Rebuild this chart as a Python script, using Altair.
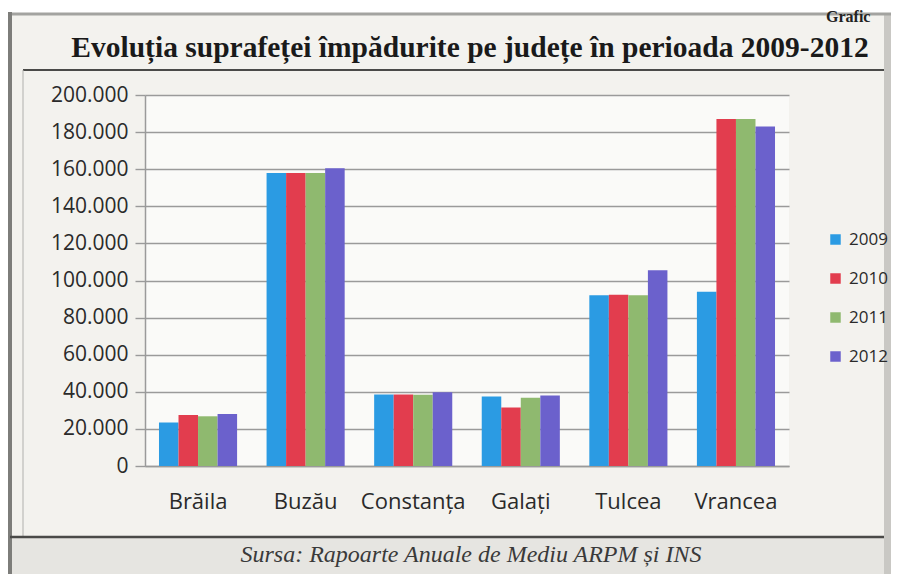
import altair as alt
import pandas as pd

# ---- data ----
judete = ["Brăila", "Buzău", "Constanța", "Galați", "Tulcea", "Vrancea"]
ani = ["2009", "2010", "2011", "2012"]
v2009 = [23500, 158000, 38600, 37500, 92000, 94000]
v2010 = [27500, 158000, 38600, 31500, 92300, 187000]
v2011 = [26800, 158000, 38400, 36800, 92000, 187000]
v2012 = [28000, 160500, 39800, 38000, 105500, 183000]
culori = ["#2b9be3", "#e23d4e", "#8fb96f", "#6b61cc"]
y_ticks = list(range(0, 200001, 20000))
title_text = "Evoluția suprafeței împădurite pe județe în perioada 2009-2012"
source_text = "Sursa: Rapoarte Anuale de Mediu ARPM și INS"
corner_text = "Grafic"

serii = {"2009": v2009, "2010": v2010, "2011": v2011, "2012": v2012}
rows = []
for an in ani:
    for j, v in zip(judete, serii[an]):
        rows.append({"judet": j, "an": an, "val": v})
df = pd.DataFrame(rows)

# ---- layout (plot origin at page px (145, 95)) ----
OX, OY = 145, 95
W, H = 644, 371
dummy = pd.DataFrame({"k": [0]})


def rect(x1, y1, x2, y2, color):
    return alt.Chart(dummy).mark_rect(color=color).encode(
        x=alt.value(x1 - OX), x2=alt.value(x2 - OX),
        y=alt.value(y1 - OY), y2=alt.value(y2 - OY))


def rule(x1, y1, x2, y2, color, w):
    return alt.Chart(dummy).mark_rule(color=color, strokeWidth=w).encode(
        x=alt.value(x1 - OX), x2=alt.value(x2 - OX),
        y=alt.value(y1 - OY), y2=alt.value(y2 - OY))


def text(x, y, s, **kw):
    return alt.Chart(dummy).mark_text(**kw).encode(
        x=alt.value(x - OX), y=alt.value(y - OY), text=alt.value(s))


decor = [
    rect(8, 538, 891, 574, "#e6e5e1"),
    rect(884, 12, 891, 574, "#c9c8c4"),
    rect(8, 8, 891, 13, "#ffffff"),
    rule(8, 14, 891, 14, "#a3a3a0", 3),
    rule(10, 12, 10, 574, "#7d7d7a", 4),
    rule(23, 70, 884, 70, "#4a4a48", 2),
    rule(23, 70, 23, 537, "#b0b0ad", 1),
    rule(10, 537, 884, 537, "#4a4a48", 2.5),
    text(826, 9, corner_text, font="Liberation Serif", fontWeight="bold",
         fontSize=16, align="left", baseline="top", color="#222"),
]

texts = [
    text(470, 48, title_text, font="Liberation Serif", fontWeight="bold",
         fontSize=29.5, align="center", baseline="middle", color="#1a1a1a"),
    text(471, 555, source_text, font="Liberation Serif", fontStyle="italic",
         fontSize=24, align="center", baseline="middle", color="#3a3a3a"),
]

bars = alt.Chart(df).mark_bar().encode(
    x=alt.X("judet:N", sort=judete,
            scale=alt.Scale(paddingInner=0.274, paddingOuter=0.13),
            axis=alt.Axis(title=None, labelAngle=0, labelFont="Open Sans",
                          labelFontSize=22, labelColor="#2a2a2a", labelPadding=25,
                          ticks=False, domainColor="#9a9a9a", domainWidth=1.5,
                          grid=False)),
    xOffset=alt.XOffset("an:N", sort=ani,
                        scale=alt.Scale(paddingInner=0, paddingOuter=0)),
    y=alt.Y("val:Q", scale=alt.Scale(domain=[0, 200000], nice=False),
            axis=alt.Axis(title=None, values=y_ticks,
                          labelExpr="replace(format(datum.value, ','), ',', '.')",
                          gridColor="#9a9a9a", gridWidth=1.4,
                          tickSize=10, tickColor="#9a9a9a", tickWidth=1.4,
                          labelPadding=7, domainColor="#9a9a9a", domainWidth=1.5,
                          labelFont="Open Sans", labelFontSize=21,
                          labelColor="#2a2a2a")),
    color=alt.Color("an:N", sort=ani,
                    scale=alt.Scale(domain=ani, range=culori),
                    legend=alt.Legend(title=None, orient="none", legendX=682,
                                      legendY=136, symbolType="square",
                                      symbolSize=110, symbolStrokeWidth=0,
                                      labelFont="Open Sans", labelFontSize=17,
                                      labelColor="#2a2a2a", rowPadding=21,
                                      padding=0, labelOffset=5)),
)

chart = alt.layer(*decor, bars, *texts).properties(
    width=W, height=H,
    autosize=alt.AutoSizeParams(type="none"),
    padding={"left": OX - 8, "top": OY - 8,
             "right": 883 - (OX - 8) - W, "bottom": 566 - (OY - 8) - H},
).configure(background="#f3f2ee").configure_view(stroke=None, fill="#fafaf8")

chart.save("out.html", embed_options={"renderer": "svg", "actions": False})
